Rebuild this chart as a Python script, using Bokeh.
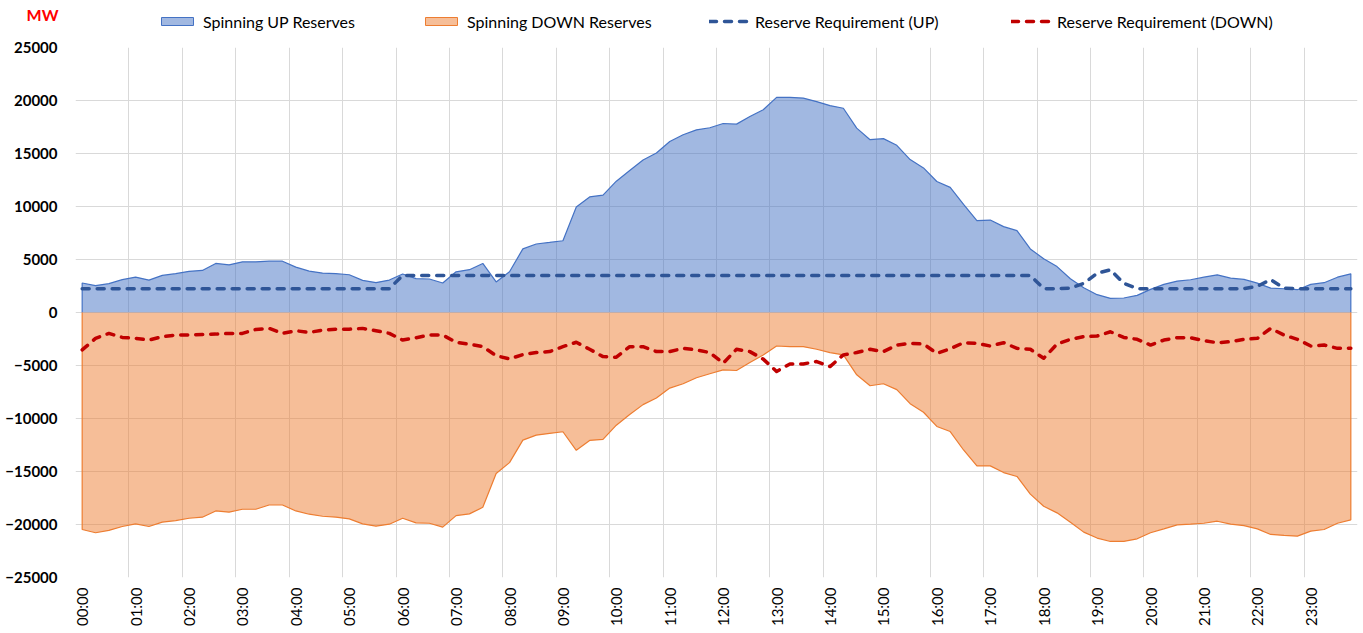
import math
from bokeh.plotting import figure
from bokeh.layouts import column
from bokeh.models import Range1d, FixedTicker, Legend, LegendItem
from bokeh.embed import file_html
from bokeh.resources import INLINE

# ---------------- data (MW, 15-minute resolution, 00:00 .. 23:45) ----------------
hour_labels = ["00:00", "01:00", "02:00", "03:00", "04:00", "05:00", "06:00", "07:00",
               "08:00", "09:00", "10:00", "11:00", "12:00", "13:00", "14:00", "15:00",
               "16:00", "17:00", "18:00", "19:00", "20:00", "21:00", "22:00", "23:00"]

spinning_up = [2780, 2540, 2720, 3100, 3340, 3060, 3500, 3660, 3880, 3970, 4630, 4500,
               4780, 4780, 4840, 4840, 4280, 3900, 3720, 3660, 3560, 3030, 2820, 3060,
               3630, 3190, 3160, 2780, 3840, 4040, 4630, 2880, 3850, 6000, 6460, 6610,
               6770, 9960, 10900, 11080, 12390, 13390, 14390, 15050, 16130, 16770, 17230, 17430,
               17830, 17770, 18490, 19130, 20300, 20300, 20230, 19900, 19520, 19270, 17390, 16300,
               16400, 15770, 14430, 13640, 12360, 11800, 10200, 8660, 8720, 8100, 7720, 6000,
               5070, 4330, 3180, 2330, 1680, 1340, 1370, 1620, 2180, 2650, 2960, 3090,
               3330, 3550, 3240, 3120, 2770, 2300, 2240, 2150, 2650, 2810, 3330, 3650]

spinning_down = [-20470, -20780, -20560, -20190, -19940, -20190, -19780, -19630, -19410, -19310, -18720, -18840,
                 -18560, -18560, -18160, -18160, -18720, -19030, -19220, -19310, -19470, -19940, -20160, -19970,
                 -19410, -19850, -19880, -20250, -19160, -19000, -18380, -15190, -14160, -12040, -11570, -11410,
                 -11250, -13000, -12070, -11970, -10630, -9630, -8690, -8060, -7130, -6720, -6160, -5780,
                 -5410, -5470, -4720, -4000, -3160, -3220, -3220, -3470, -3780, -4000, -5880, -6910,
                 -6720, -7280, -8600, -9410, -10750, -11230, -12970, -14470, -14470, -15100, -15470, -17130,
                 -18280, -18900, -19780, -20720, -21280, -21600, -21600, -21350, -20780, -20410, -20030, -19970,
                 -19880, -19690, -19970, -20100, -20410, -20940, -21030, -21100, -20630, -20470, -19880, -19560]

requirement_up = [2250, 2250, 2250, 2250, 2250, 2250, 2250, 2250, 2250, 2250, 2250, 2250,
                  2250, 2250, 2250, 2250, 2250, 2250, 2250, 2250, 2250, 2250, 2250, 2250,
                  3500, 3500, 3500, 3500, 3500, 3500, 3500, 3500, 3500, 3500, 3500, 3500,
                  3500, 3500, 3500, 3500, 3500, 3500, 3500, 3500, 3500, 3500, 3500, 3500,
                  3500, 3500, 3500, 3500, 3500, 3500, 3500, 3500, 3500, 3500, 3500, 3500,
                  3500, 3500, 3500, 3500, 3500, 3500, 3500, 3500, 3500, 3500, 3500, 3500,
                  2250, 2250, 2300, 2750, 3700, 4030, 2750, 2250, 2250, 2250, 2250, 2250,
                  2250, 2250, 2250, 2250, 2470, 3100, 2300, 2250, 2250, 2250, 2250, 2250]

requirement_down = [-3530, -2440, -1970, -2350, -2440, -2600, -2280, -2130, -2130, -2070, -2040, -1970,
                    -1970, -1600, -1500, -1970, -1720, -1880, -1660, -1570, -1570, -1500, -1720, -1970,
                    -2600, -2380, -2130, -2130, -2810, -3000, -3220, -4070, -4380, -3970, -3770, -3690,
                    -3220, -2810, -3470, -4160, -4220, -3220, -3220, -3690, -3690, -3380, -3530, -3780,
                    -4780, -3470, -3690, -4400, -5560, -4850, -4850, -4630, -5100, -4000, -3780, -3470,
                    -3690, -3070, -2910, -2970, -3850, -3430, -2850, -2910, -3160, -2850, -3380, -3470,
                    -4320, -2970, -2530, -2280, -2220, -1820, -2350, -2530, -3070, -2600, -2380, -2380,
                    -2660, -2850, -2750, -2530, -2440, -1500, -2130, -2530, -3160, -3070, -3380, -3380]

series_names = ["Spinning UP Reserves", "Spinning DOWN Reserves",
                "Reserve Requirement (UP)", "Reserve Requirement (DOWN)"]
unit_label = "MW"

# ---------------- styling ----------------
FONT = "Lato"
BLUE = "#4472C4"
ORANGE = "#ED7D31"
DARK_BLUE = "#2F5597"
DARK_RED = "#C00000"
GRID = "#D9D9D9"
W = 1362
HEAD_H = 37
LEFT = 75

n = len(spinning_up)
xs = list(range(n))

# ---------------- main chart ----------------
fig = figure(width=W, height=595, output_backend="svg", toolbar_location=None,
             x_range=Range1d(-0.5, n - 0.5), y_range=Range1d(-25000, 25000),
             min_border_left=LEFT, min_border_right=5, min_border_top=10, min_border_bottom=55)
fig.outline_line_color = None

y_ticks = list(range(-25000, 25001, 5000))
fig.ygrid.ticker = FixedTicker(ticks=y_ticks)
fig.xgrid.ticker = FixedTicker(ticks=[k - 0.5 for k in range(0, n + 1, 4)])
for g in (fig.xgrid, fig.ygrid):
    g.grid_line_color = GRID
    g.grid_line_width = 1

fig.xaxis.ticker = FixedTicker(ticks=list(range(0, n, 4)))
fig.xaxis.major_label_overrides = {4 * k: lab for k, lab in enumerate(hour_labels)}
fig.xaxis.major_label_orientation = math.pi / 2
fig.yaxis.ticker = FixedTicker(ticks=y_ticks)
for ax in (fig.xaxis, fig.yaxis):
    ax.axis_line_color = None
    ax.major_tick_line_color = None
    ax.minor_tick_line_color = None
    ax.major_tick_out = 0
    ax.major_tick_in = 0
    ax.minor_tick_out = 0
    ax.minor_tick_in = 0
    ax.major_label_text_font = FONT
    ax.major_label_text_color = "#000000"
fig.xaxis.major_label_text_font_size = "15px"
fig.yaxis.major_label_text_font_size = "15px"
fig.yaxis.major_label_text_font_style = "bold"
fig.yaxis.major_label_standoff = 18
fig.xaxis.major_label_standoff = 10

# areas
fig.varea(x=xs, y1=0, y2=spinning_up, fill_color=BLUE, fill_alpha=0.5)
fig.line(x=[xs[0]] + xs + [xs[-1]], y=[0] + spinning_up + [0], line_color=BLUE, line_width=1.2)
fig.varea(x=xs, y1=0, y2=spinning_down, fill_color=ORANGE, fill_alpha=0.5)
fig.line(x=[xs[0]] + xs + [xs[-1]], y=[0] + spinning_down + [0], line_color=ORANGE, line_width=1.2)

# requirement lines
fig.line(x=xs, y=requirement_up, line_color=DARK_BLUE, line_width=3.5,
         line_dash="7 8", line_cap="round", line_join="round")
fig.line(x=xs, y=requirement_down, line_color=DARK_RED, line_width=3.5,
         line_dash="7 8", line_cap="round", line_join="round")

# ---------------- header strip: unit label + legend ----------------
head = figure(width=W, height=HEAD_H, output_backend="svg", toolbar_location=None,
              x_range=Range1d(0, W - LEFT), y_range=Range1d(0, HEAD_H),
              min_border_left=LEFT, min_border_right=0, min_border_top=0, min_border_bottom=0,
              x_axis_type=None)
head.outline_line_color = None
head.grid.visible = False

# unit label ("MW") drawn as the header's only y-axis label, in its left border
unit_pos = HEAD_H - 14
head.yaxis.ticker = FixedTicker(ticks=[unit_pos])
head.yaxis.major_label_overrides = {unit_pos: unit_label}
head.yaxis.axis_line_color = None
head.yaxis.major_tick_line_color = None
head.yaxis.minor_tick_line_color = None
head.yaxis.major_tick_out = 0
head.yaxis.major_tick_in = 0
head.yaxis.minor_tick_out = 0
head.yaxis.minor_tick_in = 0
head.yaxis.major_label_standoff = 17
head.yaxis.major_label_text_font = FONT
head.yaxis.major_label_text_font_size = "16px"
head.yaxis.major_label_text_font_style = "bold"
head.yaxis.major_label_text_color = "#FF0000"

nan3 = [float("nan")] * 3
sw_up = head.patch(x=nan3, y=nan3, fill_color=BLUE, fill_alpha=0.5, line_color=BLUE, line_width=1)
sw_dn = head.patch(x=nan3, y=nan3, fill_color=ORANGE, fill_alpha=0.5, line_color=ORANGE, line_width=1)
sw_ru = head.line(x=nan3, y=nan3, line_color=DARK_BLUE, line_width=3.5, line_dash="7 8", line_cap="round")
sw_rd = head.line(x=nan3, y=nan3, line_color=DARK_RED, line_width=3.5, line_dash="7 8", line_cap="round")

legend_x = [82, 346, 634, 936]
for name, rend, lx in zip(series_names, [sw_up, sw_dn, sw_ru, sw_rd], legend_x):
    lg = Legend(items=[LegendItem(label=name, renderers=[rend])],
                location=(lx, 6), orientation="horizontal",
                padding=0, margin=0, spacing=0,
                glyph_width=40, glyph_height=10, label_standoff=6,
                label_height=20,
                label_text_font=FONT, label_text_font_size="16px",
                label_text_color="#000000",
                border_line_color=None, background_fill_alpha=0)
    head.add_layout(lg, "center")

p = column(head, fig, spacing=0)

open("out.html", "w").write(file_html(p, INLINE))
